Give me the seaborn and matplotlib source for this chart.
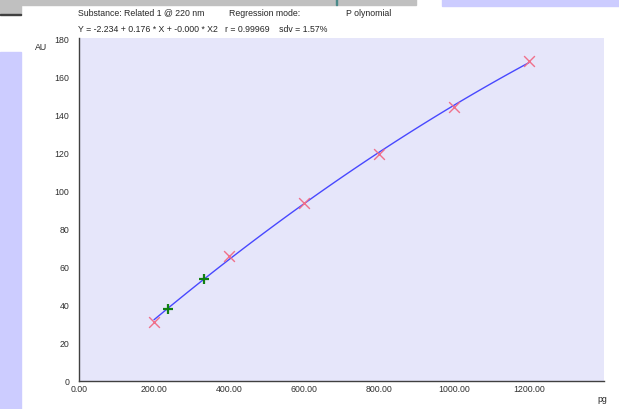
import matplotlib
matplotlib.use("Agg")
import matplotlib.pyplot as plt
import seaborn as sns
from matplotlib.patches import Rectangle

# Calibration standards (red crosses) and samples (green plus)
std_amount = [200, 400, 600, 800, 1000, 1200]
std_area = [31.0, 65.5, 93.6, 119.0, 143.6, 168.0]
sample_amount = [236, 332]
sample_area = [37.8, 53.5]

x_ticks = [0, 200, 400, 600, 800, 1000, 1200]
y_ticks = [0, 20, 40, 60, 80, 100, 120, 140, 160, 180]

sns.set_style("white")
plt.rcParams['font.family'] = ['Liberation Sans', 'DejaVu Sans']
fs = 6.3

fig = plt.figure(figsize=(6.19, 4.10), dpi=100)
W, H = 619, 410

def px_rect(x0, y0, x1, y1, color):
    # rectangle given in pixel coords (top-left origin)
    fig.patches.append(Rectangle((x0 / W, 1 - y1 / H), (x1 - x0) / W, (y1 - y0) / H,
                                 transform=fig.transFigure, color=color, zorder=0))

# window decorations around the chart
px_rect(0, 0, 416, 6, '#c0c0c0')
px_rect(0, 0, 21, 15, '#c0c0c0')
px_rect(0, 15, 21, 16, '#404040')
px_rect(336, 0, 337, 6, '#4a8a8a')
px_rect(442, 0, 619, 7, '#ccccff')
px_rect(0, 53, 21, 410, '#ccccff')

ax = fig.add_axes([79 / W, 1 - 382 / H, 525 / W, 343 / H])
ax.set_facecolor('#e6e6fa')

sns.regplot(x=std_amount, y=std_area, order=2, ci=None, scatter=False, ax=ax,
            line_kws=dict(color='#4848ff', lw=1.0))
sns.scatterplot(x=std_amount, y=std_area, marker='x', s=60, color='#f0708a',
                linewidth=1.0, ax=ax, zorder=5)
sns.scatterplot(x=sample_amount, y=sample_area, marker='+', s=60, color='#108010',
                linewidth=1.6, ax=ax, zorder=6)

ax.set_xlim(0, 1400)
ax.set_ylim(0, 180)
ax.set_xticks(x_ticks)
ax.set_xticklabels([f"{v:.2f}" for v in x_ticks], fontsize=fs)
ax.set_yticks(y_ticks)
ax.set_yticklabels([str(v) for v in y_ticks], fontsize=fs)
ax.tick_params(axis='x', direction='inout', length=5, width=0.8, pad=0, colors='#303030')
ax.tick_params(axis='y', direction='out', length=5, width=0.8, pad=2, colors='#303030')
for s in ['top', 'right']:
    ax.spines[s].set_visible(False)
for s in ['left', 'bottom']:
    ax.spines[s].set_color('#404040')
    ax.spines[s].set_linewidth(1.0)
ax.set_xlabel('')
ax.set_ylabel('')

fig.text(35 / W, 1 - 47 / H, 'AU', fontsize=fs, va='center')
fig.text(597 / W, 1 - 400 / H, 'pg', fontsize=fs, va='center')

fig.text(78 / W, 1 - 13 / H, 'Substance: Related 1 @ 220 nm', fontsize=fs, va='center')
fig.text(229 / W, 1 - 13 / H, 'Regression mode:', fontsize=fs, va='center')
fig.text(346 / W, 1 - 13 / H, 'P olynomial', fontsize=fs, va='center')
fig.text(78 / W, 1 - 30 / H,
         'Y = -2.234 + 0.176 * X + -0.000 * X2   r = 0.99969    sdv = 1.57%',
         fontsize=fs, va='center')

fig.savefig('out.png', dpi=100)
